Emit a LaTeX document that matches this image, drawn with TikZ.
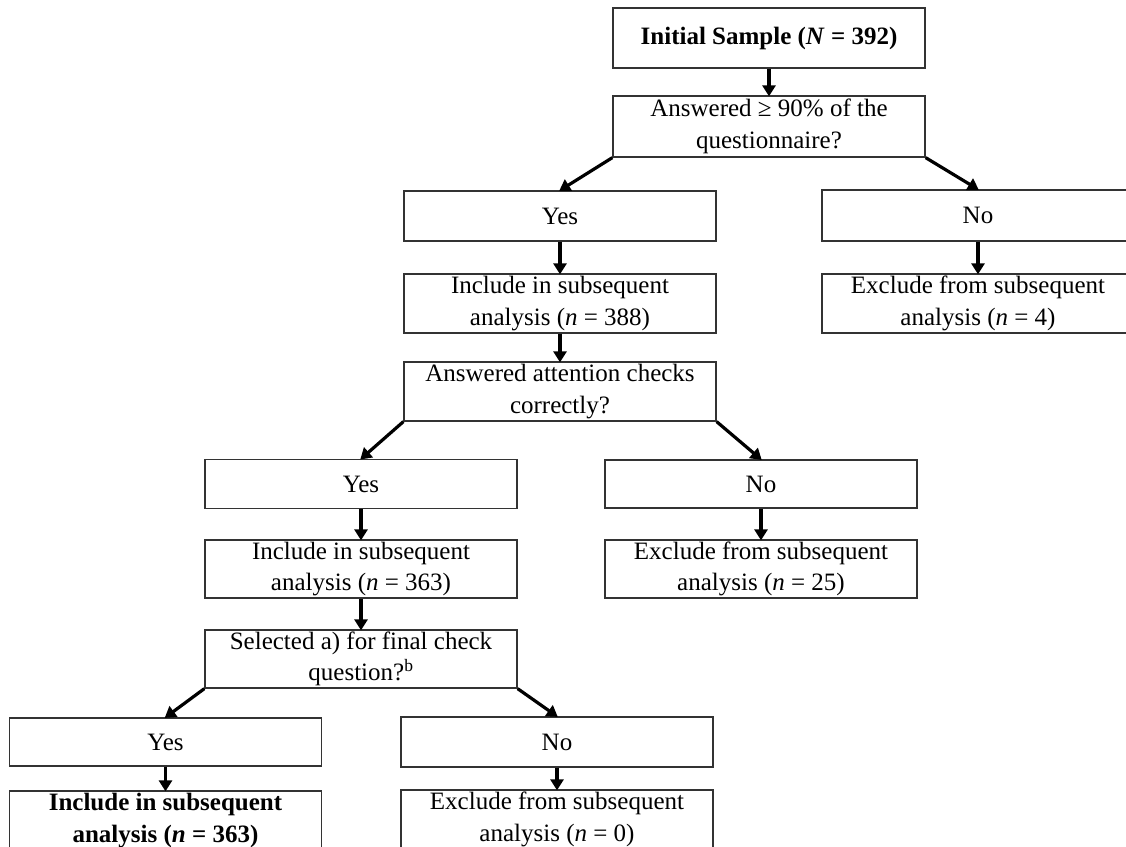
\documentclass[tikz,border=0pt]{standalone}
\usepackage{fontspec}
\setmainfont{Liberation Serif}
\usetikzlibrary{arrows.meta}
\begin{document}
\begin{tikzpicture}[x=1pt,y=-1pt,
  box/.style={draw=black!80, line width=1.3pt, rectangle, minimum width=312pt,
    inner sep=0pt, align=center, font=\fontsize{25}{31.5}\selectfont},
  flow/.style={line width=3.2pt, -{Triangle[length=11pt,width=13pt]}, shorten >=-1pt}]
  \useasboundingbox (0,0) rectangle (1126,846);
  \clip (0,0) rectangle (1126,846);

  % first screening step
  \node[box, minimum height=60pt] (init) at (769,38) {\textbf{Initial Sample (\textit{N} = 392)}};
  \node[box, minimum height=61pt] (q1) at (769,126.5) {Answered ≥ 90\% of the\\questionnaire?};
  \node[box, minimum height=50pt] (yes1) at (560,216) {Yes};
  \node[box, minimum height=51pt] (no1) at (978,215.5) {No};
  \node[box, minimum height=59pt] (inc1) at (560,303.5) {Include in subsequent\\analysis (\textit{n} = 388)};
  \node[box, minimum height=59pt] (exc1) at (978,303.5) {Exclude from subsequent\\analysis (\textit{n} = 4)};

  % attention checks
  \node[box, minimum height=59pt] (q2) at (560,391.5) {Answered attention checks\\correctly?};
  \node[box, minimum height=49pt] (yes2) at (361,484) {Yes};
  \node[box, minimum height=48pt] (no2) at (761,484) {No};
  \node[box, minimum height=58pt] (inc2) at (361,569) {Include in subsequent\\analysis (\textit{n} = 363)};
  \node[box, minimum height=58pt] (exc2) at (761,569) {Exclude from subsequent\\analysis (\textit{n} = 25)};

  % final check question
  \node[box, minimum height=58pt] (q3) at (361,659) {Selected a) for final check\\question?\textsuperscript{b}};
  \node[box, minimum height=48pt] (yes3) at (165.5,742) {Yes};
  \node[box, minimum height=50pt] (no3) at (557,742) {No};
  \node[box, minimum height=59pt] (inc3) at (165.5,820.5) {\textbf{Include in subsequent}\\\textbf{analysis (\textit{n} = 363)}};
  \node[box, minimum height=59pt] (exc3) at (557,819.5) {Exclude from subsequent\\analysis (\textit{n} = 0)};

  % connectors
  \draw[flow] (init) -- (q1);
  \draw[flow] (q1.south west) -- (yes1.north);
  \draw[flow] (q1.south east) -- (no1.north);
  \draw[flow] (yes1) -- (inc1);
  \draw[flow] (no1) -- (exc1);
  \draw[flow] (inc1) -- (q2);
  \draw[flow] (q2.south west) -- (yes2.north);
  \draw[flow] (q2.south east) -- (no2.north);
  \draw[flow] (yes2) -- (inc2);
  \draw[flow] (no2) -- (exc2);
  \draw[flow] (inc2) -- (q3);
  \draw[flow] (q3.south west) -- (yes3.north);
  \draw[flow] (q3.south east) -- (no3.north);
  \draw[flow] (yes3) -- (inc3);
  \draw[flow] (no3) -- (exc3);
\end{tikzpicture}
\end{document}
